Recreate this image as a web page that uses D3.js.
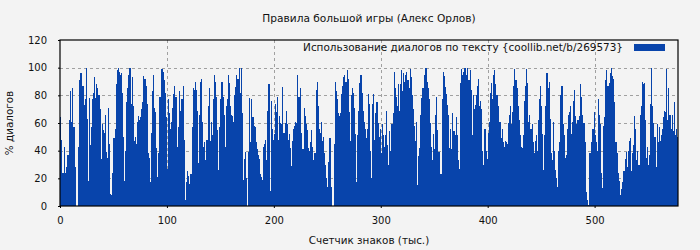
<!DOCTYPE html>
<html>
<head>
<meta charset="utf-8">
<script src="https://cdn.jsdelivr.net/npm/d3@7"></script>
<style>
  html, body { margin: 0; padding: 0; background: #f3f3f3; }
  svg { display: block; }
  text { font-family: "DejaVu Sans", sans-serif; fill: #111; }
</style>
</head>
<body>
<svg id="chart" width="700" height="250"></svg>
<script>
const title = "Правила большой игры (Алекс Орлов)";
const legendLabel = "Использование диалогов по тексту {coollib.net/b/269573}";
const xTitle = "Счетчик знаков (тыс.)";
const yTitle = "% диалогов";
const xTicks = [0, 100, 200, 300, 400, 500];
const yTicks = [0, 20, 40, 60, 80, 100, 120];

// % of dialogue per thousand characters
const seg1 = [64,48,24,24,43,24,28,37,62,83,61,85,57,57,28,0,0,43,91,96,96,87,73,77,100,63,18,78,44,57,77,82,93,78,88,85,80,70,34,59,55,53,66,39,35,71,45,9,8,24,49,56,88,98,100,97,95,96,82,50,18,40,75,85,95,100,74,93,72,47,50,45,61,65,62,64,70,75,94,92,87,74,38,35,17,53,83,95,71,68,42,21,38,79,99,99,97,91,82];
const seg2 = [64,27,77,67,56,61,71,81,87,79,43,57,83,69,77,77,87,48,4,17,25,22,16,23,57,85,84,90,84,69,31,66,90,92,61,43,46,33,48,72,85,47,61,51,77,95,90,79,55,26,57,77,90,79,66,43,72,77,95,89,72,66,65,61,80,86,95,92,100,82,100,67,19,34,39,20,0,39,78,46,77,64,58,57,46,41,37,34,23,21,19,43,45,48,33,69,88];
const seg3 = [11,76,56,48,52,74,68,79,48,65,60,59,86,53,60,69,59,48,52,42,29,47,56,58,61,60,95,79,85,53,41,41,71,65,59,55,42,40,46,55,43,33,38,84,90,72,56,53,61,47,50,38,30,20,14,32,49,14,0,0,45,90,83,77,67,65,67,81,87,93,95,90,98,92,68,47,80,85,82,71,52,17,51,69,89,95,82,69,61,56,49,56,81,74];
const seg4 = [40,20,74,81,48,67,75,60,50,56,38,59,51,43,51,69,44,30,54,40,59,67,97,85,79,72,88,69,88,98,83,96,90,95,97,91,85,99,93,80,70,58,47,61,15,36,42,66,78,85,95,100,100,90,85,77,60,43,33,52,41,66,79,55,39,23,23,77,97,94,86,81,73,66,42,56,41,67,54,51,64,51,33,27,89,99,95,97,100,100,95,100,91,98,84,51,80,70];
const seg5 = [73,80,87,92,72,76,70,40,30,56,40,34,53,61,82,89,77,95,98,88,80,80,72,61,49,56,46,43,47,46,45,60,66,72,59,68,87,99,91,85,72,62,51,43,42,51,76,87,99,89,61,66,56,59,46,38,47,51,40,62,77,87,72,52,26,51,72,96,85,90,63,38,33,61,40,26,20,14,40,46,80,87,59,51,35,37,56,66,68,72,52,61,76,84,65,59,62,65];
const seg6 = [88,79,66,60,60,46,10,4,1,38,38,46,56,68,51,46,40,77,66,59,24,13,58,64,91,98,87,89,96,100,94,92,75,46,46,38,24,18,8,12,17,25,34,39,28,40,47,49,25,38,44,65,56,33,40,30,66,72,90,88,89,62,35,43,30,37,74,100,72,60,50,28,59,46,57,47,51,56,64,69,68,99,62,85,66,56,66,54,75,51,56,50];

const values = [].concat(seg1, seg2, seg3, seg4, seg5, seg6);
const xMax = values.length;

const svg = d3.select("#chart");
const margin = { left: 60, right: 22, top: 40, bottom: 44 };
const W = 700, H = 250;
const x = d3.scaleLinear().domain([0, xMax]).range([margin.left, W - margin.right]);
const y = d3.scaleLinear().domain([0, 120]).range([H - margin.bottom, margin.top]);
const color = "#0844ab";
const gridColor = "#a0a0a0";

// grid (behind the bars)
const grid = svg.append("g");
grid.selectAll("line.h").data(yTicks.filter(d => d > 0 && d < 120)).join("line")
  .attr("x1", x(0)).attr("x2", x(xMax))
  .attr("y1", d => Math.round(y(d)) + 0.5).attr("y2", d => Math.round(y(d)) + 0.5)
  .attr("stroke", gridColor).attr("stroke-width", 1).attr("stroke-dasharray", "3,3");
grid.selectAll("line.v").data(xTicks.filter(d => d > 0)).join("line")
  .attr("x1", d => Math.round(x(d)) + 0.5).attr("x2", d => Math.round(x(d)) + 0.5)
  .attr("y1", y(120)).attr("y2", y(0))
  .attr("stroke", gridColor).attr("stroke-width", 1).attr("stroke-dasharray", "3,3");

// bars, snapped to whole pixels so neighbours touch without seams
svg.append("g").attr("shape-rendering", "crispEdges")
  .selectAll("rect").data(values).join("rect")
  .attr("x", (d, i) => Math.round(x(i)))
  .attr("width", (d, i) => Math.round(x(i + 1)) - Math.round(x(i)))
  .attr("y", d => Math.round(y(d)))
  .attr("height", d => Math.round(y(0)) - Math.round(y(d)))
  .attr("fill", color);

// axes
const xAxis = d3.axisBottom(x).tickValues(xTicks).tickSize(2).tickPadding(9).tickFormat(d3.format("d"));
const gx = svg.append("g").attr("transform", `translate(0,${y(0)})`).call(xAxis);
const yAxis = d3.axisLeft(y).tickValues(yTicks).tickSize(2).tickPadding(11);
const gy = svg.append("g").attr("transform", `translate(${x(0)},0)`).call(yAxis);
[gx, gy].forEach(g => {
  g.select(".domain").remove();
  g.selectAll(".tick line").attr("stroke", "#000");
  g.selectAll(".tick text").attr("font-family", "DejaVu Sans").attr("font-size", 10).attr("fill", "#111");
});

// frame
svg.append("rect")
  .attr("x", x(0)).attr("y", y(120))
  .attr("width", x(xMax) - x(0)).attr("height", y(0) - y(120))
  .attr("fill", "none").attr("stroke", "#000").attr("stroke-width", 1.2);

// title
svg.append("text").attr("x", (x(0) + x(xMax)) / 2).attr("y", 22)
  .attr("text-anchor", "middle").attr("font-size", 10.6).text(title);

// legend
svg.append("text").attr("x", 623).attr("y", 51)
  .attr("text-anchor", "end").attr("font-size", 10.45).text(legendLabel);
svg.append("rect").attr("x", 634).attr("y", 44).attr("width", 31).attr("height", 7).attr("fill", color);

// axis titles
svg.append("text").attr("x", (x(0) + x(xMax)) / 2).attr("y", 244)
  .attr("text-anchor", "middle").attr("font-size", 10.4).text(xTitle);
svg.append("text").attr("transform", `translate(13,${(y(0) + y(120)) / 2}) rotate(-90)`)
  .attr("text-anchor", "middle").attr("font-size", 10.4).text(yTitle);
</script>
</body>
</html>
